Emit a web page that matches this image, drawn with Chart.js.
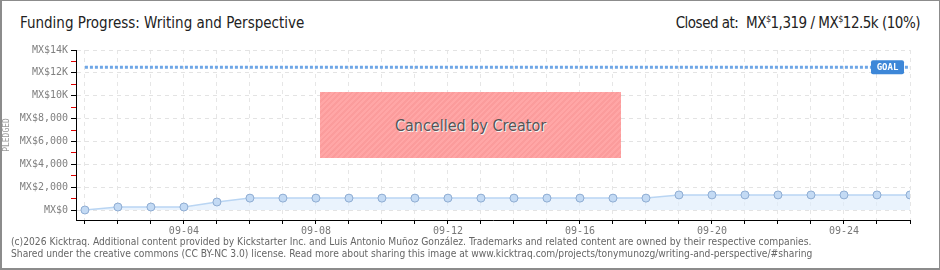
<!DOCTYPE html>
<html>
<head>
<meta charset="utf-8">
<script src="https://cdn.jsdelivr.net/npm/chart.js@4/dist/chart.umd.min.js"></script>
<style>
  html, body { margin: 0; padding: 0; background: #fff; }
  #wrap { position: relative; width: 940px; height: 270px; overflow: hidden; font-family: "DejaVu Sans Condensed", sans-serif; }
  #frame { position: absolute; left: 0; top: 0; width: 937px; height: 267px; border: 1px solid #8c8c8c; border-width: 1px 2px 2px 2px; pointer-events: none; }
  #title { position: absolute; left: 20px; top: 14px; font-size: 15px; color: #222; white-space: nowrap; }
  #closed { position: absolute; right: 20px; top: 14px; font-size: 15px; letter-spacing: -0.5px; color: #222; white-space: nowrap; }
  #closed sup { font-size: 9px; }
  #chart { position: absolute; left: 0; top: 30px; }
  #cancel { position: absolute; left: 320px; top: 92px; width: 301px; height: 66px;
    background: repeating-linear-gradient(135deg, #ffa6a6 0px, #ffa6a6 2px, #fb9c9c 2px, #fb9c9c 4px);
    display: flex; align-items: center; justify-content: center;
    font-size: 16px; color: #555; text-shadow: 1px 1px 0 #f4f4f4; }
  #foot { position: absolute; left: 11px; top: 236px; font-size: 10.2px; color: #666; line-height: 12px; white-space: nowrap; }
</style>
</head>
<body>
<div id="wrap">
  <div id="title">Funding Progress: Writing and Perspective</div>
  <div id="closed">Closed at:&nbsp; MX<sup>$</sup>1,319 / MX<sup>$</sup>12.5k (10%)</div>
  <canvas id="chart" width="940" height="210"></canvas>
  <div id="cancel">Cancelled by Creator</div>
  <div id="foot">(c)2026 Kicktraq. Additional content provided by Kickstarter Inc. and Luis Antonio Muñoz González. Trademarks and related content are owned by their respective companies.<br>Shared under the creative commons (CC BY-NC 3.0) license. Read more about sharing this image at www.kicktraq.com/projects/tonymunozg/writing-and-perspective/#sharing</div>
  <div id="frame"></div>
</div>
<script>
// days of the campaign (x axis)
const dates = ["09-01", "09-02", "09-03", "09-04", "09-05", "09-06", "09-07", "09-08", "09-09",
  "09-10", "09-11", "09-12", "09-13", "09-14", "09-15", "09-16", "09-17", "09-18", "09-19",
  "09-20", "09-21", "09-22", "09-23", "09-24", "09-25", "09-26"];

// pledged total per day (MX$)
const pledged = [0, 260, 260, 260, 700, 1040, 1040, 1040, 1040, 1040, 1040, 1040, 1040,
  1040, 1040, 1040, 1040, 1040, 1319, 1319, 1319, 1319, 1319, 1319, 1319, 1319];

const goal = 12500;

// y axis: every 1000 gets a tick, every 2000 a label
const yTickValues = [0, 1000, 2000, 3000, 4000, 5000, 6000, 7000, 8000, 9000, 10000, 11000, 12000, 13000, 14000];
const yTickLabels = ["MX$0", "MX$2,000", "MX$4,000", "MX$6,000", "MX$8,000", "MX$10K", "MX$12K", "MX$14K"];

const pixelFont = { family: "DejaVu Sans Mono", size: 10 };

// blue GOAL tag at the end of the goal line
const goalTag = {
  id: "goalTag",
  afterDatasetsDraw(chart) {
    const { ctx, scales } = chart;
    const px = scales.x.getPixelForValue(dates.length - 1);
    const py = scales.y.getPixelForValue(goal);
    ctx.save();
    ctx.fillStyle = "#3d87d8";
    ctx.beginPath();
    ctx.roundRect(px - 39, py - 7, 33, 14, 2);
    ctx.fill();
    ctx.fillStyle = "#fff";
    ctx.font = "bold 9px 'DejaVu Sans Mono'";
    ctx.textAlign = "center";
    ctx.textBaseline = "middle";
    ctx.fillText("GOAL", px - 22.5, py + 0.5);
    ctx.restore();
  },
};

const ctx = document.getElementById("chart").getContext("2d");
new Chart(ctx, {
  type: "line",
  data: {
    datasets: [
      {
        label: "Goal",
        data: dates.map((d, i) => ({ x: i, y: goal })),
        borderColor: "#6ea6e6",
        borderWidth: 3,
        borderDash: [3, 2],
        pointRadius: 0,
        fill: false,
      },
      {
        label: "Pledged",
        data: pledged.map((v, i) => ({ x: i, y: v })),
        borderColor: "#b9d5f3",
        borderWidth: 1.5,
        backgroundColor: "rgba(222,236,252,0.65)",
        fill: "origin",
        pointRadius: 4,
        pointBackgroundColor: "#c3daf4",
        pointBorderColor: "#8eacd2",
        pointBorderWidth: 1,
      },
    ],
  },
  options: {
    responsive: false,
    animation: false,
    layout: { padding: { top: 20, right: 30, bottom: 0, left: 0 } },
    plugins: { legend: { display: false }, tooltip: { enabled: false } },
    scales: {
      x: {
        type: "linear",
        min: -0.27,
        max: dates.length - 1,
        afterBuildTicks: (s) => { s.ticks = dates.map((d, i) => ({ value: i })); },
        afterFit: (s) => { s.height = 20; },
        ticks: {
          autoSkip: false,
          maxRotation: 0,
          padding: 1,
          color: "#777",
          font: pixelFont,
          callback: (v) => (v % 4 === 3 ? dates[v] : ""),
        },
        grid: { color: "#e6e6e6", tickColor: "#000", tickLength: 4 },
        border: { color: "#000", width: 1, dash: [4, 4] },
      },
      y: {
        min: -875,
        max: 14000,
        afterBuildTicks: (s) => { s.ticks = yTickValues.map((v) => ({ value: v })); },
        afterFit: (s) => { s.width = 76; },
        ticks: {
          autoSkip: false,
          padding: 3,
          color: "#808080",
          font: pixelFont,
          callback: (v) => (v % 2000 ? "" : yTickLabels[v / 2000]),
        },
        grid: {
          color: (c) => (c.tick && c.tick.value % 2000 ? "rgba(0,0,0,0)" : "#e3e3e3"),
          tickColor: (c) => (c.tick && c.tick.value % 2000 ? "#e00000" : "#000"),
          tickLength: 5,
        },
        border: { color: "#000", width: 1, dash: [4, 4] },
        title: {
          display: true,
          text: "PLEDGED",
          color: "#999",
          font: { family: "DejaVu Sans Mono", size: 8 },
          padding: { top: 2, bottom: 2 },
        },
      },
    },
  },
  plugins: [goalTag],
});
</script>
</body>
</html>
